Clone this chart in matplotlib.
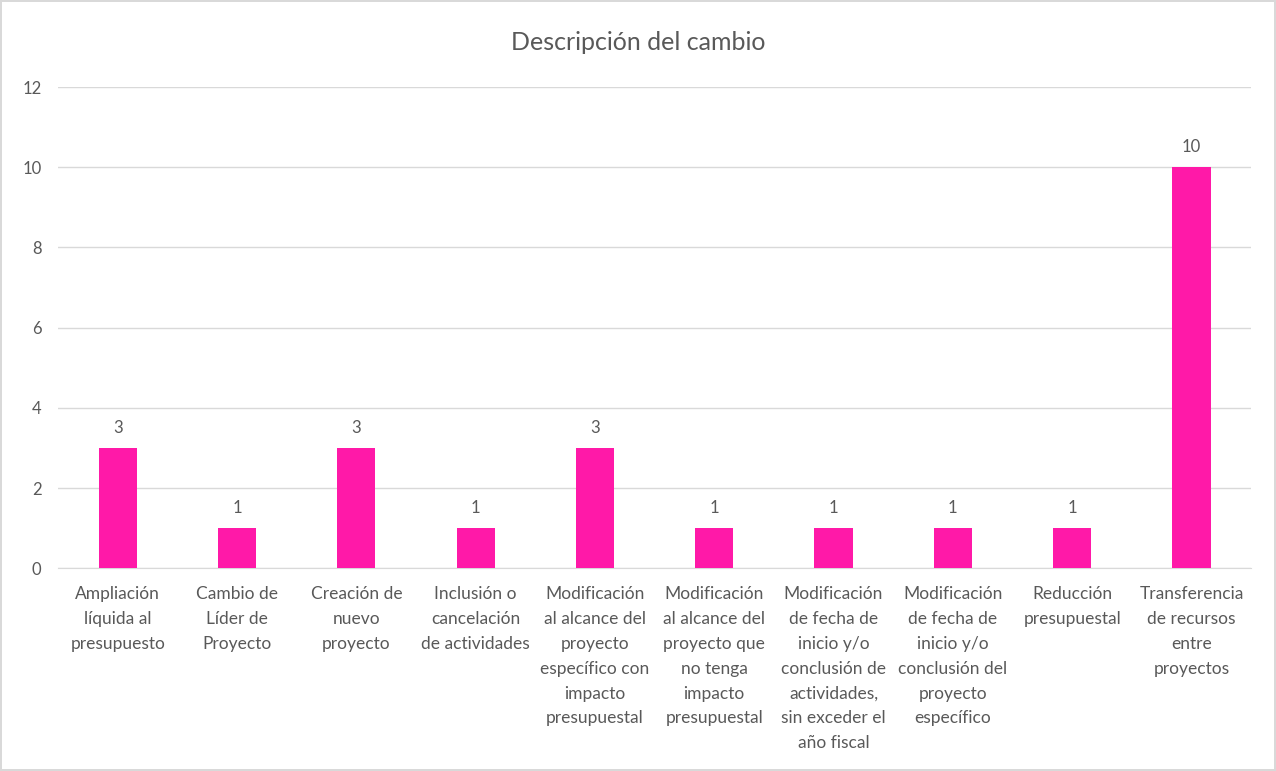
import matplotlib.pyplot as plt
import numpy as np

# Categories (wrapped as in the original chart) and counts
categorias = [
    'Ampliación\nlíquida al\npresupuesto',
    'Cambio de\nLíder de\nProyecto',
    'Creación de\nnuevo\nproyecto',
    'Inclusión o\ncancelación\nde actividades',
    'Modificación\nal alcance del\nproyecto\nespecífico con\nimpacto\npresupuestal',
    'Modificación\nal alcance del\nproyecto que\nno tenga\nimpacto\npresupuestal',
    'Modificación\nde fecha de\ninicio y/o\nconclusión de\nactividades,\nsin exceder el\naño fiscal',
    'Modificación\nde fecha de\ninicio y/o\nconclusión del\nproyecto\nespecífico',
    'Reducción\npresupuestal',
    'Transferencia\nde recursos\nentre\nproyectos',
]
valores = [3, 1, 3, 1, 3, 1, 1, 1, 1, 10]

plt.rcParams['font.family'] = ['Lato', 'DejaVu Sans']
gris = '#595959'

fig = plt.figure(figsize=(12.76, 7.71), dpi=100)
fig.patch.set_edgecolor('#D9D9D9')
fig.patch.set_linewidth(1.5)
ax = fig.add_axes([0.0455, 0.263, 0.935, 0.624])

x = np.arange(len(categorias))
ax.bar(x, valores, width=0.32, color='#FF19A8', zorder=3)
for xi, v in zip(x, valores):
    ax.text(xi, v + 0.3, str(v), ha='center', va='bottom', fontsize=12, color=gris)

ax.set_xlim(-0.5, len(categorias) - 0.5)
ax.set_ylim(0, 12)
ax.set_yticks(np.arange(0, 13, 2))
ax.yaxis.grid(True, color='#D9D9D9', linewidth=1, zorder=0)
for s in ['top', 'right', 'left']:
    ax.spines[s].set_visible(False)
ax.spines['bottom'].set_color('#D9D9D9')
ax.tick_params(axis='both', length=0, colors=gris, labelsize=12)
ax.tick_params(axis='y', pad=12)
ax.set_xticks(x)
ax.set_xticklabels(categorias, fontsize=12.5, color=gris, linespacing=1.68)
ax.tick_params(axis='x', pad=13)

fig.text(0.5, 0.945, 'Descripción del cambio', ha='center', va='center', fontsize=18, color=gris)

fig.savefig('out.png', dpi=100)
